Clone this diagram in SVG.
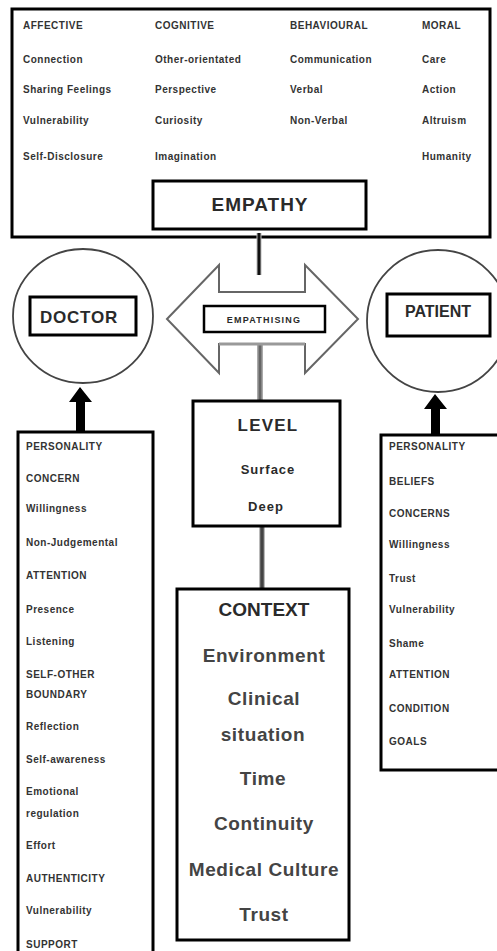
<svg xmlns="http://www.w3.org/2000/svg" width="497" height="951" viewBox="0 0 497 951">
<style>
.box{fill:#fff;stroke:#000;stroke-width:3}
.sm{font-family:"Liberation Sans",Arial,sans-serif;font-weight:bold;font-size:10px;letter-spacing:0.5px;fill:#333}
.lg{font-family:"Liberation Sans",Arial,sans-serif;font-weight:bold;fill:#2a2a2a;text-anchor:middle}
.ctx{font-size:19px;letter-spacing:0.6px;fill:#444}
</style>
<rect width="497" height="951" fill="#fff"/>
<g id="empathy-panel">
<rect class="box" x="12" y="9" width="478" height="228"/>
<text class="sm" x="23" y="29">AFFECTIVE</text>
<text class="sm" x="23" y="63">Connection</text>
<text class="sm" x="23" y="93">Sharing Feelings</text>
<text class="sm" x="23" y="124">Vulnerability</text>
<text class="sm" x="23" y="160">Self-Disclosure</text>
<text class="sm" x="155" y="29">COGNITIVE</text>
<text class="sm" x="155" y="63">Other-orientated</text>
<text class="sm" x="155" y="93">Perspective</text>
<text class="sm" x="155" y="124">Curiosity</text>
<text class="sm" x="155" y="160">Imagination</text>
<text class="sm" x="290" y="29">BEHAVIOURAL</text>
<text class="sm" x="290" y="63">Communication</text>
<text class="sm" x="290" y="93">Verbal</text>
<text class="sm" x="290" y="124">Non-Verbal</text>
<text class="sm" x="422" y="29">MORAL</text>
<text class="sm" x="422" y="63">Care</text>
<text class="sm" x="422" y="93">Action</text>
<text class="sm" x="422" y="124">Altruism</text>
<text class="sm" x="422" y="160">Humanity</text>
</g>
<g id="empathy">
<rect class="box" x="153" y="181" width="213" height="48"/>
<text class="lg" x="260" y="211" font-size="19" letter-spacing="1">EMPATHY</text>
</g>
<g id="connectors">
<line x1="259" y1="233" x2="259" y2="275" stroke="#bbb" stroke-width="5"/>
<line x1="259" y1="233" x2="259" y2="275" stroke="#111" stroke-width="3"/>
<line x1="260" y1="344" x2="260" y2="401" stroke="#aaa" stroke-width="6"/>
<line x1="260" y1="344" x2="260" y2="401" stroke="#666" stroke-width="3"/>
<line x1="262" y1="526" x2="262" y2="589" stroke="#bbb" stroke-width="6"/>
<line x1="262" y1="526" x2="262" y2="589" stroke="#444" stroke-width="3.5"/>
<polygon points="80,387 69,402 76,402 76,432 85,432 85,402 92,402" fill="#000"/>
<polygon points="435,394 424,409 431,409 431,435 440,435 440,409 447,409" fill="#000"/>
</g>
<g id="empathising">
<polygon points="167,319 219,265 219,292 305,292 305,265 358,319 305,373 305,344 219,344 219,373" fill="#fff" stroke="#666" stroke-width="2"/>
<line x1="219" y1="344" x2="305" y2="344" stroke="#999" stroke-width="3"/>
<rect x="204" y="306" width="121" height="26" fill="#fff" stroke="#000" stroke-width="2.5"/>
<text class="lg" x="264" y="323" font-size="9" letter-spacing="1.2" fill="#555">EMPATHISING</text>
</g>
<g id="doctor">
<ellipse cx="83" cy="316" rx="70" ry="67" fill="#fff" stroke="#444" stroke-width="1.8"/>
<rect class="box" x="30" y="297" width="106" height="38"/>
<text class="lg" x="79" y="323" font-size="17" letter-spacing="0.8" fill="#223">DOCTOR</text>
</g>
<g id="patient">
<circle cx="438" cy="321" r="71" fill="#fff" stroke="#444" stroke-width="1.8"/>
<rect class="box" x="387" y="294" width="103" height="42"/>
<text class="lg" x="438" y="317" font-size="16" fill="#223">PATIENT</text>
</g>
<g id="doctor-factors">
<rect class="box" x="18" y="432" width="135" height="530"/>
<text class="sm" x="26" y="450">PERSONALITY</text>
<text class="sm" x="26" y="482">CONCERN</text>
<text class="sm" x="26" y="512">Willingness</text>
<text class="sm" x="26" y="546">Non-Judgemental</text>
<text class="sm" x="26" y="579">ATTENTION</text>
<text class="sm" x="26" y="613">Presence</text>
<text class="sm" x="26" y="645">Listening</text>
<text class="sm" x="26" y="678">SELF-OTHER</text>
<text class="sm" x="26" y="698">BOUNDARY</text>
<text class="sm" x="26" y="730">Reflection</text>
<text class="sm" x="26" y="763">Self-awareness</text>
<text class="sm" x="26" y="795">Emotional</text>
<text class="sm" x="26" y="817">regulation</text>
<text class="sm" x="26" y="849">Effort</text>
<text class="sm" x="26" y="882">AUTHENTICITY</text>
<text class="sm" x="26" y="914">Vulnerability</text>
<text class="sm" x="26" y="948">SUPPORT</text>
</g>
<g id="patient-factors">
<rect class="box" x="381" y="435" width="130" height="335"/>
<text class="sm" x="389" y="450">PERSONALITY</text>
<text class="sm" x="389" y="485">BELIEFS</text>
<text class="sm" x="389" y="517">CONCERNS</text>
<text class="sm" x="389" y="548">Willingness</text>
<text class="sm" x="389" y="582">Trust</text>
<text class="sm" x="389" y="613">Vulnerability</text>
<text class="sm" x="389" y="647">Shame</text>
<text class="sm" x="389" y="678">ATTENTION</text>
<text class="sm" x="389" y="712">CONDITION</text>
<text class="sm" x="389" y="745">GOALS</text>
</g>
<g id="level">
<rect class="box" x="193" y="401" width="147" height="125"/>
<text class="lg" x="268" y="431" font-size="17" letter-spacing="1.2">LEVEL</text>
<text class="lg" x="268" y="474" font-size="13" letter-spacing="1" fill="#444">Surface</text>
<text class="lg" x="266" y="511" font-size="13" letter-spacing="1" fill="#444">Deep</text>
</g>
<g id="context">
<rect class="box" x="177" y="589" width="172" height="351"/>
<text class="lg" x="264" y="616" font-size="19">CONTEXT</text>
<text class="lg ctx" x="264" y="662">Environment</text>
<text class="lg ctx" x="264" y="705">Clinical</text>
<text class="lg ctx" x="263" y="741">situation</text>
<text class="lg ctx" x="263" y="785">Time</text>
<text class="lg ctx" x="264" y="830">Continuity</text>
<text class="lg ctx" x="264" y="876">Medical Culture</text>
<text class="lg ctx" x="264" y="921">Trust</text>
</g>
</svg>
